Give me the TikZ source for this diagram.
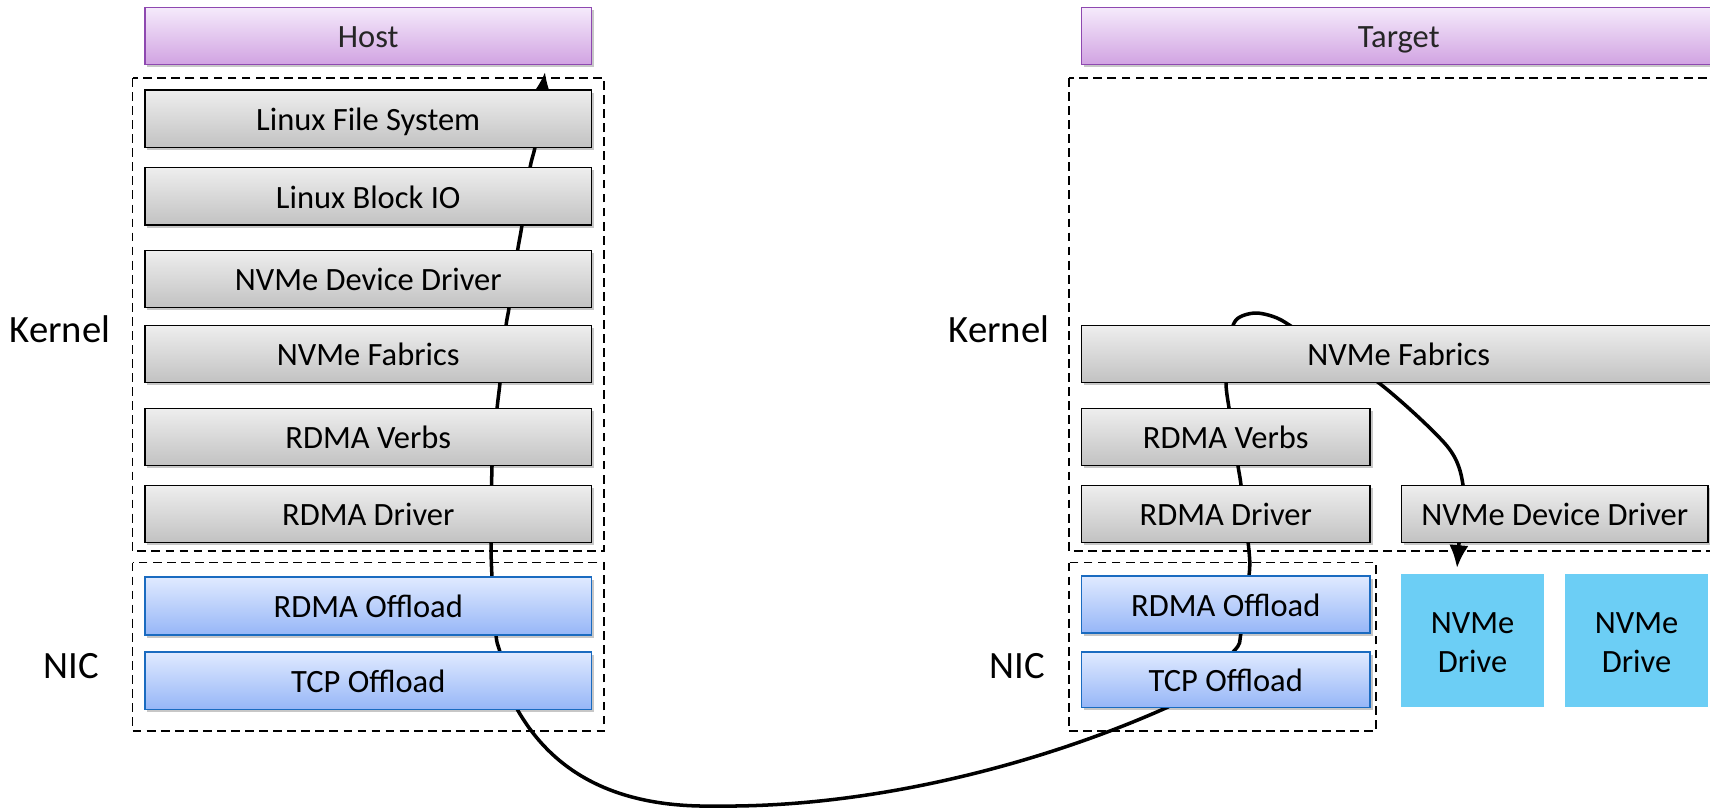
\documentclass[tikz,border=0pt]{standalone}
\usepackage{fontspec}
\setmainfont{Carlito}
\usetikzlibrary{shadows,arrows.meta}

\definecolor{greyTop}{HTML}{EEEEEE}
\definecolor{greyBot}{HTML}{C2C2C2}
\definecolor{nicTop}{HTML}{E0EAFF}
\definecolor{nicBot}{HTML}{96B6F7}
\definecolor{nicLine}{HTML}{1A6BC0}
\definecolor{sysTop}{HTML}{F5EAFB}
\definecolor{sysBot}{HTML}{D1A3E2}
\definecolor{sysLine}{HTML}{8E48B0}
\definecolor{driveBlue}{HTML}{6CCEF5}

\newcommand\boxfont{\fontsize{18.5}{22.3}\selectfont}
\newcommand\sidefont{\fontsize{22}{26}\selectfont}

% one box given by its corners (x1,y1) (x2,y2) in pixel units
\newcommand\mkbox[7]{%
  \pgfmathsetmacro\mkboxw{(#5-#3)*0.02}%
  \pgfmathsetmacro\mkboxh{(#6-#4)*0.02}%
  \node[#2, minimum width=\mkboxw cm, minimum height=\mkboxh cm] (#1) at ({(#3+#5)/2},{(#4+#6)/2}) {#7};%
}

\tikzset{
  basebox/.style={inner sep=0pt, outer sep=0pt, font=\boxfont, line width=1.1pt,
    text height=13.4pt, text depth=0pt,
    drop shadow={shadow xshift=0.05cm, shadow yshift=-0.05cm, fill=black, opacity=0.22}},
  greybox/.style={basebox, draw=black, top color=greyTop, bottom color=greyBot},
  nicbox/.style={basebox, draw=nicLine, top color=nicTop, bottom color=nicBot},
  sysbox/.style={basebox, draw=sysLine, top color=sysTop, bottom color=sysBot, text=black!85},
  drivebox/.style={inner sep=0pt, outer sep=0pt, fill=driveBlue,
    label={[align=center, font=\boxfont, inner sep=0pt, yshift=-1.3pt]center:NVMe\\Drive}},
  zone/.style={draw=black, line width=0.8pt, dash pattern=on 5pt off 3pt},
  flow/.style={line width=2pt, line join=round, {Latex[length=13pt,width=11pt]}-{Latex[length=13pt,width=11pt]}},
  side/.style={font=\sidefont, anchor=base, inner sep=0pt}
}

\begin{document}
\begin{tikzpicture}[x=0.02cm,y=-0.02cm]
\useasboundingbox (0,0) rectangle (1710,809);
\clip (0,0) rectangle (1710,809);

% dashed kernel / NIC zones
\draw[zone] (132.5,78) rectangle (604,551);
\draw[zone] (132.5,562.5) rectangle (604,731);
\draw[zone] (1069,78) rectangle (1730,551);
\draw[zone] (1069,562.5) rectangle (1376,731);

% side labels
\node[side] (kernelH) at (60,342) {Kernel};
\node[side] (nicH) at (71.5,678) {NIC};
\node[side] (kernelT) at (999,342) {Kernel};
\node[side] (nicT) at (1017,678) {NIC};

% end points of the data path
\coordinate (hostIn) at (545,72);
\coordinate (driveIn) at (1457,568);

% data path: down the host stack, across the wire, up the target stack
% and down to the drive
\draw[flow] plot[smooth, tension=0.5] coordinates {
    (hostIn) (540,110) (535,147) (530,168) (522,225) (517.5,251) (509,308)
    (506,326) (500,383) (497,409) (492,466) (491.5,486) (491,543) (492,577)
    (496,635) (500,652) (516.5,708)}
  .. controls (550,768) and (610,808) .. (715,806)
  .. controls (880,808) and (1050,760) .. (1168,707)
  -- plot[smooth, tension=0.5] coordinates {
    (1176,701) (1233,652) (1241,633) (1249,576) (1249,551) (1241,485)
    (1238,466) (1229,408) (1226,383) (1228,345) (1236,320) (1255,313)
    (1277,318) (1300,332) (1379,383) (1447,446) (1463,485) (1460,530)
    (driveIn)};

% host stack
\mkbox{host}{sysbox}{145}{7.5}{591.5}{64.5}{Host}
\mkbox{fsH}{greybox}{145}{90}{591.5}{147.5}{Linux File System}
\mkbox{blkH}{greybox}{145}{167.5}{591.5}{225}{Linux Block IO}
\mkbox{nvddH}{greybox}{145}{250.5}{591.5}{307.5}{NVMe Device Driver}
\mkbox{fabH}{greybox}{145}{325.5}{591.5}{382.5}{NVMe Fabrics}
\mkbox{verbsH}{greybox}{145}{408.5}{591.5}{465.5}{RDMA Verbs}
\mkbox{drvH}{greybox}{145}{485.5}{591.5}{542.5}{RDMA Driver}
\mkbox{rdmaH}{nicbox}{145}{577}{591.5}{635}{RDMA Offload}
\mkbox{tcpH}{nicbox}{145}{652}{591.5}{709.5}{TCP Offload}

% target stack
\mkbox{target}{sysbox}{1081.5}{7.5}{1716}{64.5}{Target}
\mkbox{fabT}{greybox}{1081.5}{325.5}{1716}{382.5}{NVMe Fabrics}
\mkbox{verbsT}{greybox}{1081.5}{408.5}{1370}{465.5}{RDMA Verbs}
\mkbox{drvT}{greybox}{1081.5}{485.5}{1370}{542.5}{RDMA Driver}
\mkbox{nvddT}{greybox}{1401.5}{485.5}{1708}{542.5}{NVMe Device Driver}
\mkbox{rdmaT}{nicbox}{1081.5}{576}{1370}{633}{RDMA Offload}
\mkbox{tcpT}{nicbox}{1081.5}{652}{1370}{707.5}{TCP Offload}

% drives (their two-line caption comes from the drivebox style)
\mkbox{driveA}{drivebox}{1401}{574}{1544}{706.5}{}
\mkbox{driveB}{drivebox}{1565}{574}{1708}{706.5}{}
\end{tikzpicture}
\end{document}
